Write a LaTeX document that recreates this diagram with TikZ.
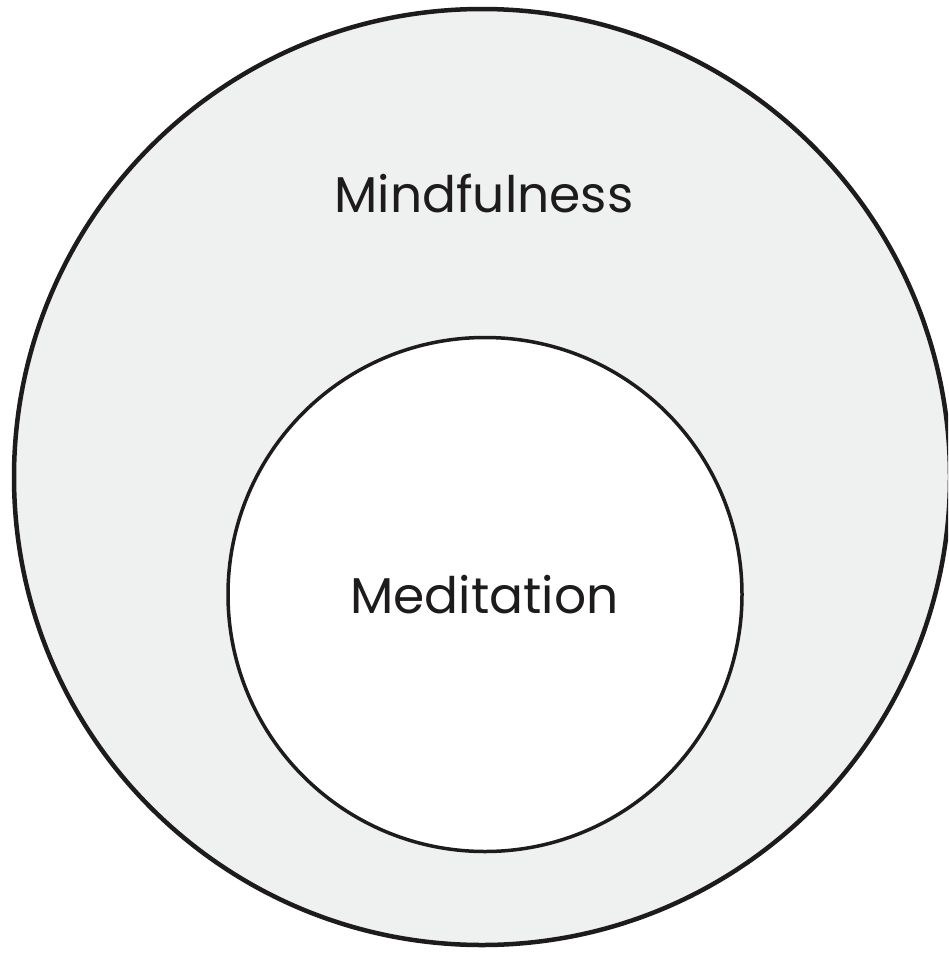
\documentclass[tikz,border=0pt]{standalone}
\usepackage{fontspec}
\setmainfont{Poppins}
\definecolor{ringfill}{HTML}{EFF0F0}
\definecolor{ink}{HTML}{1E1B1C}
\begin{document}
\begin{tikzpicture}[x=1pt,y=-1pt,
  lbl/.style={font=\fontsize{50.3}{60}\selectfont, text=ink, anchor=base, inner sep=0pt}]
\useasboundingbox (0,0) rectangle (948,953);
\clip (0,0) rectangle (948,953);
\draw[draw=ink, line width=4.5pt, fill=ringfill] (482,477) circle[radius=468];
\draw[draw=ink, line width=3.5pt, fill=white] (485,594.5) circle[radius=257];
\node[lbl] (outer) at (484,212) {Mindfulness};
\node[lbl] (inner) at (484.5,613) {Meditation};
\end{tikzpicture}
\end{document}
